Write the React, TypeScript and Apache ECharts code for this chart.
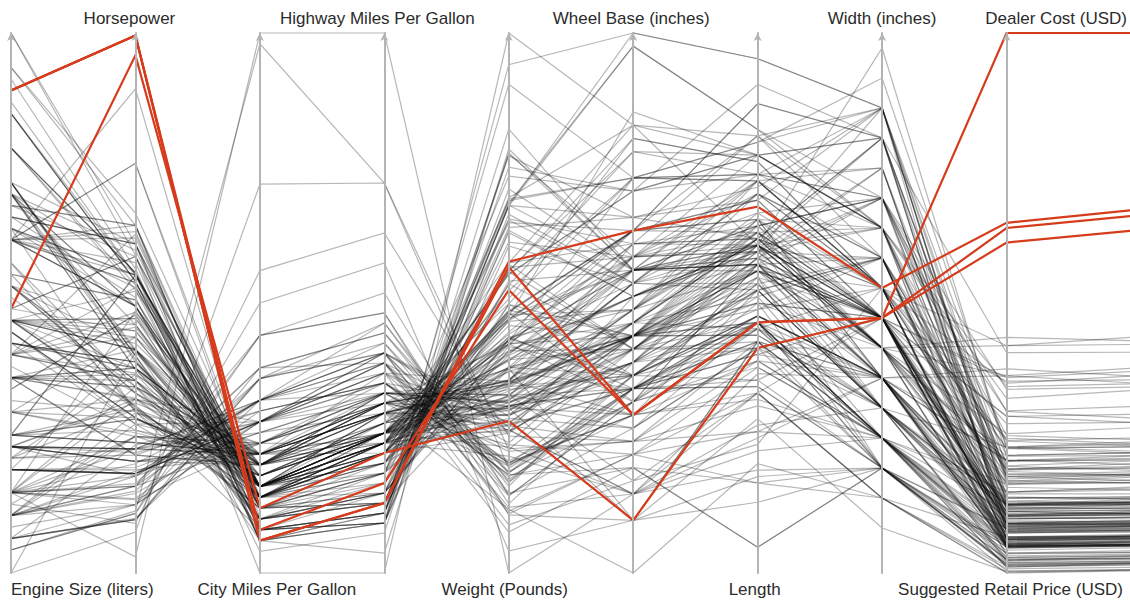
import { useEffect, useRef } from "react";
import * as echarts from "echarts";

// Axis order, left to right
const dimensionNames = [
  "Engine Size (liters)",
  "Horsepower",
  "City Miles Per Gallon",
  "Highway Miles Per Gallon",
  "Weight (Pounds)",
  "Wheel Base (inches)",
  "Length",
  "Width (inches)",
  "Suggested Retail Price (USD)",
  "Dealer Cost (USD)",
];

// Extent of each axis (bottom value, top value)
const axisMin = [1.3, 60, 10, 12, 1850, 89, 139, 63.5, 10280, 9250];
const axisMax = [6.0, 495, 60, 66, 6400, 130, 223, 81.5, 192465, 173560];

// [engine, hp, city mpg, hwy mpg, weight, wheel base, length, width, retail, dealer]
const cars: number[][] = [
  [3.5, 265, 17, 23, 4451, 106, 189, 77, 36945, 33337],
  [2.0, 200, 24, 31, 2778, 101, 172, 68, 23820, 21761],
  [2.4, 200, 22, 29, 3230, 105, 183, 69, 26990, 24647],
  [3.2, 270, 20, 28, 3575, 108, 186, 72, 33195, 30299],
  [3.5, 225, 18, 24, 3880, 115, 197, 72, 43755, 39014],
  [3.2, 290, 17, 24, 3153, 100, 174, 71, 89765, 79978],
  [1.8, 170, 22, 31, 3252, 104, 179, 70, 25940, 23508],
  [3.0, 220, 17, 26, 3583, 104, 179, 70, 33430, 30366],
  [2.7, 250, 18, 25, 3836, 109, 192, 71, 42840, 38840],
  [4.2, 330, 17, 24, 4399, 121, 204, 75, 69190, 64740],
  [4.2, 340, 14, 20, 3825, 104, 179, 70, 48040, 43556],
  [3.2, 250, 21, 29, 3351, 96, 159, 73, 40590, 36739],
  [4.2, 450, 15, 22, 4024, 109, 191, 78, 84600, 76417],
  [2.5, 184, 20, 29, 3219, 107, 176, 69, 28495, 26155],
  [3.0, 225, 20, 30, 3285, 107, 176, 69, 35495, 32525],
  [3.0, 225, 20, 30, 3472, 114, 191, 73, 44995, 41170],
  [4.4, 325, 18, 26, 4464, 123, 204, 75, 73195, 66830],
  [3.2, 333, 16, 24, 3415, 108, 177, 70, 48195, 44170],
  [4.4, 325, 16, 22, 4824, 111, 184, 74, 52195, 47720],
  [2.5, 184, 20, 28, 2932, 98, 161, 70, 33895, 31065],
  [3.1, 175, 20, 30, 3353, 109, 195, 73, 22180, 20351],
  [3.8, 205, 20, 29, 3567, 112, 200, 74, 26470, 24282],
  [3.8, 205, 20, 29, 3778, 114, 207, 75, 35545, 32244],
  [3.4, 185, 19, 26, 4024, 112, 187, 74, 26545, 24085],
  [4.6, 275, 18, 26, 3984, 115, 207, 74, 45445, 41650],
  [5.3, 295, 14, 18, 5367, 116, 199, 79, 52795, 48377],
  [3.6, 255, 18, 25, 3694, 113, 190, 71, 32845, 30120],
  [4.6, 320, 17, 25, 3647, 106, 178, 72, 76200, 70546],
  [1.6, 103, 28, 34, 2370, 98, 167, 66, 11690, 10965],
  [2.2, 140, 26, 37, 2617, 104, 183, 69, 14610, 13697],
  [2.2, 145, 24, 34, 3174, 106, 188, 70, 18995, 17434],
  [3.4, 180, 21, 32, 3465, 111, 200, 73, 21900, 20095],
  [3.8, 240, 18, 28, 3434, 111, 198, 73, 24225, 22222],
  [5.7, 350, 18, 25, 3246, 105, 180, 74, 44535, 39068],
  [5.3, 295, 14, 18, 4947, 116, 197, 79, 35925, 31756],
  [4.2, 275, 16, 21, 4425, 113, 192, 75, 30295, 27479],
  [3.4, 185, 19, 26, 3699, 112, 187, 72, 27020, 24518],
  [4.3, 190, 14, 17, 4605, 111, 190, 78, 26395, 23954],
  [2.4, 150, 22, 29, 3101, 103, 169, 67, 17985, 16919],
  [2.4, 150, 22, 30, 3173, 108, 191, 71, 19090, 17805],
  [3.5, 250, 18, 27, 3581, 113, 198, 74, 29865, 27797],
  [3.2, 215, 17, 25, 3060, 95, 160, 70, 34495, 32033],
  [3.8, 215, 18, 25, 4228, 119, 201, 79, 33520, 30851],
  [2.0, 132, 29, 36, 2581, 105, 174, 67, 13670, 12849],
  [2.7, 200, 21, 29, 3469, 113, 204, 75, 22035, 20502],
  [2.4, 150, 21, 28, 3182, 108, 191, 71, 20220, 18821],
  [4.7, 230, 15, 21, 4987, 119, 201, 76, 32235, 29472],
  [2.4, 150, 20, 26, 3862, 113, 189, 79, 21795, 20508],
  [2.0, 130, 26, 33, 2612, 103, 168, 67, 13270, 12482],
  [3.0, 155, 20, 27, 3306, 109, 198, 73, 22290, 20457],
  [4.6, 224, 17, 25, 4057, 115, 212, 78, 24345, 22856],
  [4.6, 260, 17, 25, 3347, 101, 183, 74, 29380, 26875],
  [3.9, 280, 17, 24, 3780, 107, 186, 72, 37530, 34483],
  [4.0, 210, 15, 20, 4463, 114, 190, 72, 29670, 26983],
  [3.0, 201, 18, 23, 3346, 103, 173, 70, 22515, 20907],
  [3.9, 193, 17, 23, 4275, 121, 201, 77, 26930, 24498],
  [1.7, 115, 32, 38, 2432, 103, 175, 67, 13270, 12175],
  [1.3, 93, 46, 51, 2732, 103, 175, 68, 20140, 18451],
  [2.0, 73, 60, 66, 1850, 95, 155, 67, 19110, 17911],
  [1.5, 110, 59, 51, 2890, 106, 175, 68, 20510, 18926],
  [2.4, 160, 26, 34, 3047, 105, 190, 72, 19860, 17924],
  [3.0, 240, 21, 30, 3294, 105, 188, 72, 26960, 24304],
  [2.2, 240, 20, 25, 2835, 95, 162, 69, 33260, 29965],
  [2.4, 160, 21, 25, 3258, 103, 179, 70, 19860, 18419],
  [3.5, 240, 17, 22, 4387, 106, 188, 77, 27560, 24843],
  [3.5, 240, 18, 25, 4365, 118, 201, 76, 24950, 22498],
  [2.4, 160, 21, 24, 3468, 101, 167, 72, 18690, 17334],
  [1.6, 103, 29, 33, 2255, 96, 167, 66, 10539, 10107],
  [2.0, 138, 26, 34, 2635, 103, 178, 68, 13839, 12781],
  [2.7, 170, 19, 27, 3217, 106, 187, 72, 19339, 17574],
  [3.5, 194, 17, 26, 3651, 108, 192, 72, 24589, 22055],
  [2.7, 173, 20, 26, 3549, 103, 177, 73, 21589, 20201],
  [3.5, 260, 18, 26, 3336, 112, 187, 69, 28495, 26157],
  [4.5, 340, 17, 23, 3977, 113, 200, 73, 52545, 47575],
  [4.5, 315, 15, 19, 4309, 112, 189, 76, 45305, 41200],
  [4.2, 294, 18, 28, 3803, 119, 200, 73, 60670, 55085],
  [2.5, 192, 18, 26, 3428, 107, 184, 70, 29995, 27355],
  [4.2, 390, 16, 23, 4042, 102, 187, 71, 86995, 78783],
  [4.2, 390, 17, 24, 4046, 115, 192, 72, 63120, 57499],
  [3.7, 210, 17, 21, 4115, 104, 174, 72, 20130, 18973],
  [4.7, 235, 15, 20, 4287, 106, 181, 72, 31000, 28400],
  [4.0, 190, 16, 19, 3575, 93, 150, 67, 25520, 23275],
  [1.6, 104, 26, 33, 2403, 95, 167, 66, 10280, 9875],
  [2.4, 138, 23, 30, 3281, 106, 186, 72, 16040, 14910],
  [3.5, 195, 16, 22, 4802, 115, 194, 75, 19635, 18630],
  [4.4, 282, 12, 16, 5379, 113, 195, 76, 72250, 65807],
  [3.3, 225, 20, 29, 3460, 107, 191, 71, 32350, 28755],
  [4.3, 290, 18, 25, 3990, 115, 197, 72, 55750, 48583],
  [4.3, 300, 18, 23, 3840, 103, 178, 72, 63200, 55063],
  [3.3, 230, 18, 24, 4065, 107, 186, 73, 39195, 34576],
  [4.7, 235, 13, 17, 5590, 112, 193, 76, 64800, 56455],
  [3.9, 280, 17, 24, 3768, 115, 194, 73, 40095, 36809],
  [4.6, 239, 17, 25, 4369, 118, 215, 78, 43495, 40015],
  [5.4, 300, 13, 18, 5969, 119, 206, 80, 52775, 46360],
  [2.0, 148, 26, 34, 2696, 104, 178, 69, 15500, 14525],
  [2.3, 160, 24, 29, 3042, 105, 187, 70, 19270, 17817],
  [1.8, 142, 23, 28, 2387, 89, 156, 66, 22388, 20701],
  [1.3, 238, 18, 24, 3029, 106, 174, 72, 27200, 25179],
  [2.0, 130, 22, 25, 3091, 103, 173, 72, 21087, 19742],
  [3.0, 200, 18, 25, 3812, 112, 188, 72, 25920, 23733],
  [1.8, 189, 22, 30, 3250, 107, 178, 68, 26060, 24249],
  [3.2, 215, 20, 26, 3450, 107, 178, 68, 37630, 35046],
  [3.2, 221, 19, 27, 3635, 112, 190, 71, 48170, 44849],
  [5.0, 302, 16, 20, 3815, 112, 190, 71, 57270, 53382],
  [4.3, 275, 18, 26, 4160, 122, 203, 73, 74320, 69168],
  [5.0, 302, 16, 24, 4390, 122, 203, 73, 86970, 80939],
  [2.3, 192, 21, 29, 3055, 95, 158, 68, 40320, 37548],
  [5.0, 288, 14, 17, 4874, 111, 183, 74, 46470, 43268],
  [5.0, 292, 13, 14, 5423, 112, 186, 71, 76870, 71540],
  [5.0, 302, 17, 22, 3585, 107, 183, 69, 52800, 49104],
  [2.0, 120, 25, 31, 2795, 102, 181, 67, 14810, 13884],
  [2.0, 271, 18, 26, 3263, 103, 179, 70, 29562, 27466],
  [2.4, 160, 23, 30, 3351, 108, 191, 72, 19312, 17957],
  [3.0, 210, 21, 28, 3241, 101, 177, 69, 25092, 23456],
  [3.8, 215, 15, 19, 4718, 110, 190, 75, 33112, 30763],
  [3.5, 205, 18, 25, 3549, 107, 194, 70, 29282, 27250],
  [1.8, 126, 28, 35, 2513, 100, 178, 67, 12740, 12205],
  [2.5, 175, 21, 26, 3039, 110, 192, 70, 19240, 18030],
  [3.5, 265, 20, 28, 3476, 111, 194, 72, 29440, 26966],
  [3.5, 287, 20, 26, 3188, 104, 169, 72, 26910, 25203],
  [3.5, 245, 20, 25, 3801, 111, 188, 74, 28739, 26254],
  [5.6, 305, 13, 19, 5013, 123, 207, 79, 33840, 30815],
  [3.5, 240, 19, 26, 4012, 124, 204, 78, 32780, 30019],
  [3.3, 180, 17, 20, 3760, 104, 178, 70, 20939, 19512],
  [2.2, 140, 24, 33, 2771, 104, 182, 68, 15495, 14375],
  [2.2, 140, 24, 32, 3118, 107, 186, 70, 21595, 20185],
  [3.8, 260, 18, 28, 3477, 111, 198, 74, 24295, 22284],
  [5.7, 340, 16, 20, 3725, 110, 190, 72, 33500, 30710],
  [1.8, 130, 29, 36, 2701, 102, 172, 70, 17045, 15973],
  [3.4, 185, 19, 26, 3779, 108, 182, 74, 21595, 19810],
  [3.6, 315, 18, 26, 3135, 93, 175, 70, 79165, 69229],
  [3.2, 258, 18, 26, 2911, 95, 170, 70, 52365, 45766],
  [4.5, 340, 14, 18, 4950, 112, 188, 76, 56665, 49865],
  [2.0, 210, 20, 28, 3175, 105, 183, 69, 33360, 31562],
  [2.3, 220, 21, 29, 3470, 106, 190, 71, 40845, 38376],
  [2.2, 140, 26, 35, 2692, 103, 185, 67, 10995, 10319],
  [2.2, 140, 24, 34, 3109, 107, 190, 69, 14300, 13393],
  [2.2, 143, 21, 26, 3381, 107, 181, 72, 20585, 19238],
  [1.5, 108, 32, 38, 2340, 93, 154, 67, 12965, 12340],
  [2.5, 300, 18, 24, 3263, 100, 174, 69, 31545, 29130],
  [2.5, 165, 21, 28, 3395, 104, 184, 69, 25645, 23336],
  [2.5, 165, 21, 28, 3420, 104, 184, 69, 23895, 21773],
  [2.5, 165, 21, 28, 3090, 99, 175, 68, 21445, 19646],
  [2.3, 155, 25, 31, 2676, 98, 171, 68, 14500, 14317],
  [2.7, 185, 18, 22, 3682, 110, 187, 70, 23699, 22307],
  [1.8, 130, 32, 40, 2502, 102, 178, 67, 15030, 13650],
  [1.5, 108, 35, 43, 2035, 93, 163, 65, 10760, 10144],
  [2.4, 157, 24, 33, 3086, 107, 189, 71, 19560, 17558],
  [3.3, 225, 20, 29, 3439, 107, 193, 72, 26510, 23908],
  [3.0, 210, 21, 29, 3439, 107, 192, 72, 30920, 27271],
  [1.8, 180, 24, 33, 2500, 102, 171, 68, 22570, 20363],
  [1.8, 138, 26, 32, 2195, 97, 153, 67, 25130, 22787],
  [3.3, 230, 18, 24, 3935, 107, 185, 72, 27930, 24915],
  [4.7, 235, 14, 17, 4738, 110, 189, 74, 35695, 31827],
  [4.7, 325, 13, 17, 5390, 112, 193, 76, 54765, 47986],
  [3.3, 230, 19, 27, 4120, 119, 200, 77, 28800, 25690],
  [4.7, 240, 14, 17, 5270, 118, 204, 78, 41475, 36616],
  [1.8, 115, 24, 31, 2897, 99, 165, 68, 18715, 17478],
  [1.9, 100, 38, 46, 3003, 99, 172, 68, 21055, 19638],
  [2.0, 115, 24, 30, 2875, 99, 161, 68, 16730, 15556],
  [2.8, 190, 19, 27, 3721, 106, 185, 69, 33180, 30583],
  [4.2, 335, 16, 22, 5194, 118, 204, 75, 65000, 59912],
  [4.2, 310, 14, 18, 5086, 112, 187, 76, 49995, 45815],
  [1.9, 170, 22, 29, 2767, 101, 178, 68, 25135, 23701],
  [2.5, 300, 18, 25, 3571, 107, 181, 71, 37560, 35382],
  [2.9, 268, 19, 26, 3653, 110, 190, 72, 45210, 42573],
  [2.9, 268, 15, 20, 4638, 113, 189, 75, 41250, 38851],
  [2.4, 197, 21, 28, 3450, 109, 186, 71, 29740, 28011],
  [4.2, 275, 15, 19, 4945, 129, 208, 75, 31890, 28922],
  [6.0, 325, 13, 17, 6133, 130, 219, 79, 46265, 40534],
  [5.3, 295, 14, 18, 4947, 130, 219, 79, 42735, 37422],
  [6.0, 316, 10, 12, 6400, 123, 190, 81, 49995, 45815],
  [4.6, 232, 15, 19, 5000, 119, 206, 79, 34560, 30468],
  [4.6, 302, 13, 18, 4834, 114, 193, 76, 42915, 39443],
  [4.6, 224, 17, 25, 4052, 115, 212, 78, 24695, 23217],
  [3.0, 155, 20, 27, 3315, 109, 200, 73, 21595, 19848],
  [2.2, 140, 24, 32, 2946, 107, 187, 70, 18825, 17642],
  [1.6, 163, 25, 31, 2678, 97, 143, 67, 19999, 18137],
  [1.6, 115, 28, 37, 2524, 97, 143, 67, 16999, 15437],
  [5.3, 300, 16, 19, 4760, 116, 191, 78, 41995, 39306],
  [3.6, 315, 18, 26, 3240, 93, 175, 70, 76765, 67128],
  [4.2, 294, 18, 26, 3779, 102, 187, 72, 74995, 67989],
  [3.0, 215, 18, 25, 3285, 105, 177, 68, 31045, 27404],
  [2.0, 170, 21, 28, 2750, 103, 168, 67, 19135, 17878],
  [2.0, 160, 26, 30, 2782, 101, 166, 68, 19490, 17849],
  [2.0, 119, 22, 30, 2756, 102, 177, 68, 12269, 12116],
  [1.8, 124, 24, 32, 2661, 101, 178, 68, 12360, 11630],
  [3.5, 192, 16, 19, 4112, 107, 180, 73, 19635, 18630],
  [4.2, 275, 15, 20, 4967, 129, 208, 76, 31849, 29977],
  [1.6, 103, 28, 34, 2348, 98, 153, 66, 12585, 11802],
  [4.4, 325, 18, 26, 3814, 114, 191, 73, 54995, 50270],
  [4.2, 300, 17, 24, 3970, 109, 193, 71, 49690, 44936],
  [4.3, 300, 18, 23, 3715, 110, 189, 71, 48450, 42232],
  [3.5, 255, 19, 26, 3306, 108, 194, 70, 31145, 28320],
  [4.6, 275, 18, 26, 3992, 112, 201, 75, 47955, 43841],
];

// The four highest-output cars, drawn in red on top
const highPowered: number[][] = [
  [5.5, 493, 13, 19, 4473, 115, 196, 73, 128420, 119600],
  [5.5, 493, 13, 19, 4429, 101, 178, 72, 126670, 117854],
  [5.5, 493, 14, 21, 4235, 101, 178, 72, 121770, 113388],
  [3.6, 477, 16, 24, 3131, 93, 174, 72, 192465, 173560],
];

// Horizontal nudges (px) for the axis titles
const nameShift = [0, -6, 17, -7, -4, -2, -3, 0, 4, 0];

export default function App() {
  const ref = useRef<HTMLDivElement>(null);

  useEffect(() => {
    const chart = echarts.init(ref.current!, null, { renderer: "svg" });
    const lastIndex = dimensionNames.length - 1;

    const hiddenLabel = {
      show: false,
      formatter: () => "",
      color: "rgba(0,0,0,0)",
    };

    const parallelAxis = dimensionNames.map((name, i) => {
      const onTop = i % 2 === 1;
      const shift = nameShift[i];
      let align = "center";
      let padding = [0, 0, 0, 0];
      if (i === 0) {
        align = "left";
      } else if (i === lastIndex) {
        align = "right";
        padding = [0, 4, 0, 0];
      } else if (shift > 0) {
        padding = [0, 0, 0, shift * 2];
      } else if (shift < 0) {
        padding = [0, -shift * 2, 0, 0];
      }
      return {
        dim: i,
        type: "value",
        name,
        min: axisMin[i],
        max: axisMax[i],
        nameLocation: onTop ? "end" : "start",
        nameGap: onTop ? 6 : 8,
        nameTruncate: { maxWidth: 600 },
        nameTextStyle: {
          align,
          padding,
          verticalAlign: onTop ? "bottom" : "top",
          fontSize: 17,
          color: "#2b2b2b",
          fontFamily: "'Liberation Sans', Arial, sans-serif",
        },
        axisLine: {
          show: true,
          symbol: i === lastIndex ? ["none", "none"] : ["none", "arrow"],
          symbolSize: [6, 8],
          lineStyle: { color: "#b4b4b4", width: 2 },
        },
        axisTick: { show: false },
        axisLabel: hiddenLabel,
        splitLine: { show: false },
      };
    });

    chart.setOption({
      animation: false,
      backgroundColor: "#ffffff",
      parallel: {
        left: 11,
        right: -1,
        top: 33,
        bottom: 30,
        parallelAxisDefault: {
          axisLabel: hiddenLabel,
          axisTick: { show: false },
        },
      },
      parallelAxis,
      series: [
        {
          type: "parallel",
          silent: true,
          smooth: false,
          data: cars,
          lineStyle: { color: "#111111", width: 1.2, opacity: 0.3 },
        },
        {
          type: "parallel",
          silent: true,
          smooth: false,
          data: highPowered,
          lineStyle: { color: "#d63b1c", width: 2.2, opacity: 1 },
        },
      ],
    });

    return () => chart.dispose();
  }, []);

  return (
    <div
      ref={ref}
      style={{ position: "fixed", left: 0, top: 0, width: 1130, height: 603, background: "#fff" }}
    />
  );
}
